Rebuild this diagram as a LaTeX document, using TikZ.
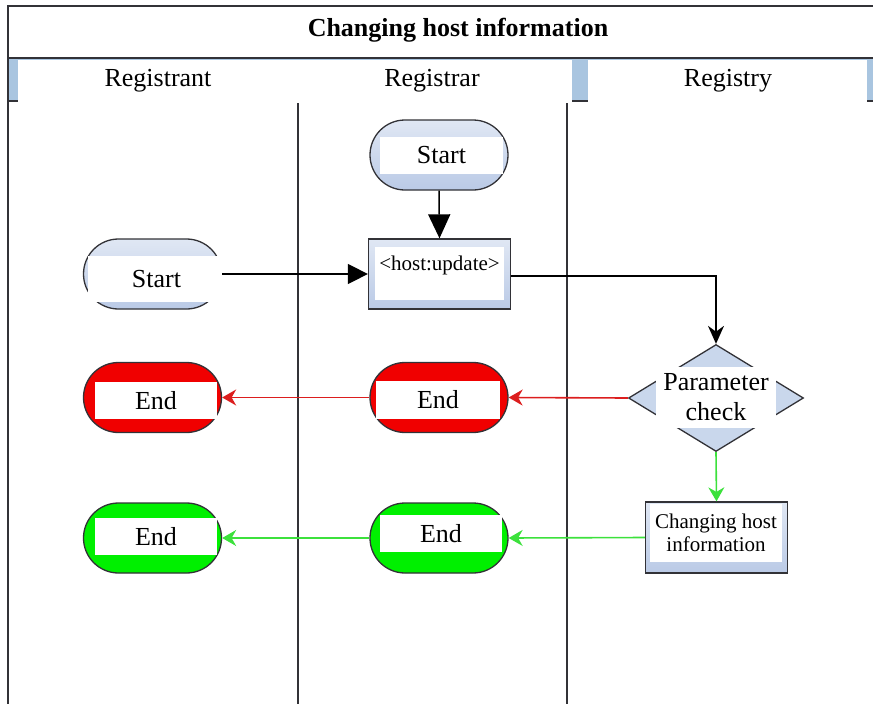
\documentclass[tikz,border=0pt]{standalone}
\usepackage{fontspec}
\setmainfont{Liberation Serif}
\usetikzlibrary{arrows.meta,shapes.geometric}

\definecolor{laneblue}{RGB}{169,197,224}
\definecolor{pillblue}{RGB}{186,202,230}
\definecolor{diamblue}{RGB}{201,215,236}
\definecolor{edgegray}{RGB}{50,50,55}
\definecolor{endred}{RGB}{240,0,0}
\definecolor{endgreen}{RGB}{0,240,0}
\definecolor{redline}{RGB}{220,30,30}
\definecolor{greenline}{RGB}{60,225,60}

\newcommand{\fsbig}{\fontsize{26}{30}\selectfont}
\newcommand{\fssmall}{\fontsize{21}{23}\selectfont}

\tikzset{
    frame/.style={draw=edgegray, line width=1.5pt},
    pill/.style={draw=edgegray, line width=1.3pt, rounded corners=35pt,
        minimum width=138pt, minimum height=70pt, inner sep=0pt},
    bluepill/.style={pill, top color=pillblue!45, bottom color=pillblue},
    redpill/.style={pill, fill=endred},
    greenpill/.style={pill, fill=endgreen},
    procbox/.style={draw=edgegray, line width=1.3pt, top color=pillblue!45,
        bottom color=pillblue, minimum width=142pt, minimum height=70pt, inner sep=0pt},
    decision/.style={diamond, draw=edgegray, line width=1.3pt, fill=diamblue,
        minimum width=175pt, minimum height=107pt, inner sep=0pt},
    tag/.style={fill=white, inner sep=0pt, minimum width=123pt,
        minimum height=37pt, font=\fsbig},
    flow/.style={draw=black, line width=1.5pt},
    redflow/.style={draw=redline, line width=1.6pt, -{Stealth[length=14pt,width=16pt]}},
    greenflow/.style={draw=greenline, line width=1.6pt, -{Stealth[length=14pt,width=16pt]}}
}

\begin{document}
\begin{tikzpicture}[x=1pt,y=-1pt]
    \useasboundingbox (0,0) rectangle (873,704);
    % title row and lane heads
    \fill[laneblue] (8,58) rectangle (873,102);
    \draw[frame] (8,101) -- (873,101);
    \fill[white] (18,60) rectangle (572,103);
    \fill[white] (588,60) rectangle (867,103);
    \draw[frame] (873,6) -- (8,6) -- (8,704);
    \draw[frame] (8,58) -- (873,58);
    \foreach \x in {298,567}
        \draw[frame] (\x,103) -- (\x,704);
    \node[font=\fsbig\bfseries] (title) at (458,30) {Changing host information};
    \foreach \x/\name in {158/Registrant,432/Registrar,728/Registry}
        \node[font=\fsbig] (\name) at (\x,81) {\name};

    % shapes
    \node[bluepill] (rarStart) at (439,155) {};
    \node[bluepill] (rantStart) at (152.5,274) {};
    \node[procbox] (hostUpd) at (439.5,274) {};
    \node[decision] (check) at (716,398) {};
    \node[redpill] (rarFail) at (439,397.5) {};
    \node[redpill] (rantFail) at (152.5,397.5) {};
    \node[procbox, minimum height=71pt] (change) at (716.5,537.5) {};
    \node[greenpill] (rarOk) at (439,538) {};
    \node[greenpill] (rantOk) at (152.5,538) {};

    % white labels
    \node[tag] (rarStartT) at (441.5,155) {Start};
    \node[tag, minimum width=137pt, minimum height=46pt] (rantStartT) at (156.5,279) {Start};
    \node[tag, minimum width=129pt, minimum height=0pt, font=\fssmall,
        text height=23pt, text depth=30pt] (hostUpdT) at (439.5,273.5) {<host:update>};
    \node[tag, minimum width=120pt, minimum height=61pt, align=center] (checkT) at (716,397) {Parameter\\check};
    \node[tag, minimum width=124pt, minimum height=38pt] (rarFailT) at (438,400) {End};
    \node[tag, minimum width=122pt] (rantFailT) at (156,400.5) {End};
    \node[tag, minimum width=132pt, minimum height=58pt, font=\fssmall, align=center] (changeT) at (716,533) {Changing host\\information};
    \node[tag, minimum width=122pt] (rarOkT) at (441,533.5) {End};
    \node[tag, minimum width=122pt] (rantOkT) at (156,536.5) {End};

    % connectors
    \draw[flow, -{Triangle[length=20pt,width=20pt]}] (rantStart.east) -- (hostUpd.west);
    \draw[flow, -{Triangle[length=24pt,width=22pt]}] (rarStart.south) -- (hostUpd.north);
    \draw[flow, -{Stealth[length=18pt,width=16pt]}] ([yshift=-2pt]hostUpd.east) -| (check.north);
    \draw[redflow] (check.west) -- (rarFail.east);
    \draw[redflow] (rarFail.west) -- (rantFail.east);
    \draw[greenflow] (check.south) -- (change.north);
    \draw[greenflow] (change.west) -- (rarOk.east);
    \draw[greenflow] (rarOk.west) -- (rantOk.east);
\end{tikzpicture}
\end{document}
